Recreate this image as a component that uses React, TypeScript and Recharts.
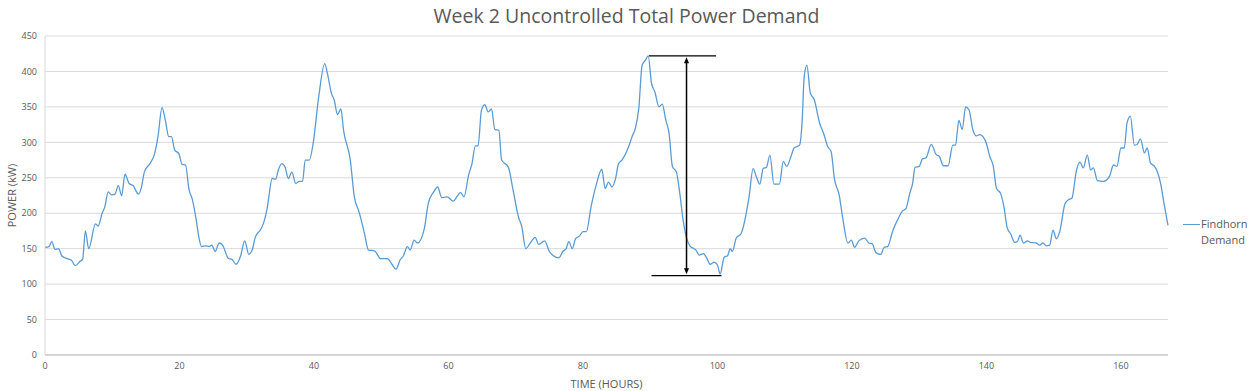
import { CartesianGrid, Line, LineChart, ReferenceLine, XAxis, YAxis } from 'recharts'

// time in hours
const HOURS = [
  0, 0.6, 1, 1.5, 2, 2.5, 3.3, 3.9, 4.5, 5.3, 5.6, 6, 6.5, 7.5, 7.9, 8.5, 8.9, 9.4, 9.9, 10.4,
  10.9, 11.4, 11.9, 12.5, 13.1, 13.9, 14.3, 14.8, 15.6, 16.3, 16.8, 17.4, 17.9, 18.4, 18.8, 19.3,
  19.9, 20.4, 20.9, 21.4, 21.9, 22.5, 22.9, 23.3, 23.9, 24.4, 24.8, 25.3, 25.9, 26.4, 27.3, 27.8,
  28.4, 29.1, 29.7, 30.3, 30.8, 31.3, 32, 32.5, 33, 33.8, 34.3, 34.7, 35.2, 35.7, 36.2, 36.7, 37.3,
  37.8, 38.3, 38.7, 39.3, 39.9, 40.7, 41.6, 42, 42.6, 43, 43.5, 44, 44.4, 45.4, 46, 46.7, 47.5,
  48.1, 49, 49.9, 50.9, 51.6, 52.2, 52.8, 53.3, 53.9, 54.3, 54.9, 55.4, 56.4, 57, 57.8, 58.4, 59,
  59.8, 60.7, 61.3, 61.8, 62.3, 63, 63.5, 64, 64.4, 64.9, 65.4, 65.9, 66.4, 66.9, 67.5, 67.9, 68.9,
  69.6, 70.4, 70.9, 71.5, 72.1, 72.9, 73.4, 74.3, 75, 75.6, 76.4, 77, 77.5, 77.9, 78.4, 78.9, 79.5,
  80, 80.5, 81.2, 82, 82.8, 83.3, 83.8, 84.3, 84.8, 85.3, 85.8, 86.8, 87.3, 87.8, 88.3, 88.8, 89.3,
  89.7, 90.2, 90.7, 91.3, 91.8, 92.3, 92.8, 93.3, 93.9, 94.4, 94.9, 95.5, 95.9, 96.8, 97.3, 97.9,
  98.4, 98.9, 99.5, 100, 100.4, 101, 101.5, 101.9, 102.2, 102.8, 103.5, 104.7, 105.3, 105.8, 106.3,
  106.8, 107.3, 107.8, 108.4, 109.2, 109.8, 110.3, 110.9, 111.4, 112.2, 112.6, 112.9, 113.3, 113.8,
  114.4, 115.2, 115.8, 116.4, 116.9, 117.4, 118.1, 118.6, 119.4, 119.9, 120.4, 121, 121.9, 122.5,
  123, 123.6, 124.3, 124.8, 125.3, 126.1, 126.8, 127.5, 128, 128.6, 129, 129.4, 130, 130.5, 131,
  131.8, 132.5, 133, 133.6, 134.3, 135, 135.4, 135.9, 136.4, 136.9, 137.4, 138, 138.5, 139, 139.9,
  140.5, 141, 141.5, 142.1, 142.6, 143.1, 143.6, 144.2, 144.6, 145, 145.5, 146.1, 146.5, 147.4,
  147.9, 148.4, 148.9, 149.4, 149.9, 150.4, 150.9, 151.7, 152.2, 152.7, 153.4, 153.9, 154.4, 155,
  155.5, 155.9, 156.5, 157.4, 158.3, 158.9, 159.4, 160, 160.5, 160.9, 161.4, 162, 162.4, 162.9,
  163.5, 163.9, 164.4, 165, 165.4, 165.9, 166.4, 167,
]

// demand in kW
const DEMAND = [
  152, 153, 160, 149, 150, 140, 136, 134, 126, 133, 135, 175, 150, 185, 182, 200, 209, 230, 226, 227,
  239, 225, 255, 242, 239, 227, 235, 259, 270, 284, 308, 349, 331, 308, 308, 289,
  284, 269, 268, 234, 220, 190, 165, 153, 154, 153, 155, 146, 158, 155, 136, 135,
  128, 140, 161, 142, 148, 167, 176, 186, 205, 249, 248, 261, 270, 265, 249, 258, 242,
  245, 245, 275, 275, 300, 364, 411, 397, 369, 360, 339, 347, 317, 275, 223, 202, 172,
  148, 147, 136, 136, 128, 121, 134, 140, 153, 148, 162, 158, 178, 214, 230, 237, 222,
  223, 217, 224, 229, 223, 254, 270, 295, 295, 345, 353, 343, 347, 318, 317, 275, 265,
  233, 195, 181, 150, 157, 166, 156, 161, 146, 140, 137, 146, 150, 160, 150, 164, 168,
  174, 174, 209, 241, 262, 235, 244, 237, 247, 270, 275, 294, 308, 320, 348, 409, 416,
  422, 383, 371, 350, 354, 332, 313, 266, 258, 228, 190, 162, 154, 148, 141, 143,
  137, 128, 131, 127, 114, 138, 140, 150, 146, 165, 171, 223, 263, 251, 241,
  263, 265, 282, 241, 241, 273, 266, 279, 292, 296, 331, 393, 409, 370,
  360, 327, 312, 294, 287, 248, 226, 195, 158, 162, 152, 161, 165, 158,
  157, 144, 142, 152, 153, 176, 191, 203, 206, 228, 241, 265, 266, 277, 278,
  297, 283, 280, 267, 267, 296, 296, 331, 318, 350, 346, 317, 309, 311, 301,
  280, 267, 235, 228, 209, 179, 171, 159, 160, 169, 158, 161, 159, 158,
  155, 158, 154, 155, 176, 164, 174, 214, 219, 221, 261, 272, 264, 282,
  261, 264, 246, 245, 252, 268, 266, 292, 292, 327, 337, 296, 297, 305,
  285, 292, 271, 266, 259, 242, 214, 183,
]

const X_TICKS = [0, 20, 40, 60, 80, 100, 120, 140, 160]
const Y_TICKS = [0, 50, 100, 150, 200, 250, 300, 350, 400, 450]

// peak-to-trough annotation (hours, kW)
const PEAK = { from: 89.8, to: 99.8, kw: 422 }
const TROUGH = { from: 90.2, to: 100.6, kw: 112 }
const ARROW = { at: 95.4, top: 420, bottom: 114 }

const data = HOURS.map((h, i) => ({ hour: h, demand: DEMAND[i] }))

const FONT = '"Open Sans", sans-serif'
const TEXT = '#595959'

function ArrowShape(props: any) {
  const { x1, y1, x2, y2 } = props
  if (x1 == null || y1 == null) return <g />
  const top = Math.min(y1, y2)
  const bottom = Math.max(y1, y2)
  const x = x1
  return (
    <g>
      <line x1={x} y1={top + 4} x2={x} y2={bottom - 4} stroke="#000" strokeWidth={1.5} />
      <polygon points={`${x},${top} ${x - 2.5},${top + 6} ${x + 2.5},${top + 6}`} fill="#000" />
      <polygon points={`${x},${bottom} ${x - 2.5},${bottom - 6} ${x + 2.5},${bottom - 6}`} fill="#000" />
    </g>
  )
}

function YLabel(props: any) {
  const vb = props.viewBox || {}
  const cy = (vb.y ?? 36) + (vb.height ?? 319) / 2
  return (
    <text
      x={16}
      y={cy}
      transform={`rotate(-90, 16, ${cy})`}
      textAnchor="middle"
      fontSize={11}
      fill={TEXT}
      fontFamily={FONT}
    >
      POWER (kW)
    </text>
  )
}

export default function App() {
  return (
    <div style={{ position: 'absolute', left: 0, top: 0, width: 1253, height: 391, background: '#fff', fontFamily: FONT }}>
      <div
        style={{
          position: 'absolute',
          top: 2,
          left: 0,
          width: 1253,
          textAlign: 'center',
          fontSize: 19.5,
          color: TEXT,
        }}
      >
        Week 2 Uncontrolled Total Power Demand
      </div>
      <LineChart
        width={1253}
        height={391}
        data={data}
        margin={{ top: 36, right: 85, bottom: 0, left: 0 }}
      >
        <CartesianGrid horizontal vertical={false} stroke="#d9d9d9" />
        <XAxis
          dataKey="hour"
          type="number"
          domain={[0, 167]}
          ticks={X_TICKS}
          height={36}
          axisLine={{ stroke: '#bfbfbf' }}
          tickLine={false}
          tick={{ fontSize: 9, fill: TEXT, fontFamily: FONT }}
          label={{ value: 'TIME (HOURS)', position: 'insideBottom', offset: 3, fontSize: 11, fill: TEXT, fontFamily: FONT }}
        />
        <YAxis
          type="number"
          domain={[0, 450]}
          ticks={Y_TICKS}
          width={45}
          axisLine={{ stroke: '#d9d9d9' }}
          tickLine={false}
          tick={{ fontSize: 9, fill: TEXT, fontFamily: FONT }}
          label={<YLabel />}
        />
        <Line
          type="monotone"
          dataKey="demand"
          stroke="#5b9bd5"
          strokeWidth={1.3}
          dot={false}
          isAnimationActive={false}
        />
        <ReferenceLine
          segment={[{ x: PEAK.from, y: PEAK.kw }, { x: PEAK.to, y: PEAK.kw }]}
          stroke="#000"
          strokeWidth={1.3}
        />
        <ReferenceLine
          segment={[{ x: TROUGH.from, y: TROUGH.kw }, { x: TROUGH.to, y: TROUGH.kw }]}
          stroke="#000"
          strokeWidth={1.3}
        />
        <ReferenceLine
          segment={[{ x: ARROW.at, y: ARROW.top }, { x: ARROW.at, y: ARROW.bottom }]}
          shape={ArrowShape}
        />
      </LineChart>
      <div style={{ position: 'absolute', left: 1183, top: 216, fontSize: 11, color: TEXT, lineHeight: '16px' }}>
        <div style={{ display: 'flex', alignItems: 'center' }}>
          <span style={{ display: 'inline-block', width: 17, height: 0, borderTop: '1.3px solid #5b9bd5', marginRight: 1 }} />
          Findhorn
        </div>
        <div style={{ paddingLeft: 18 }}>Demand</div>
      </div>
    </div>
  )
}
